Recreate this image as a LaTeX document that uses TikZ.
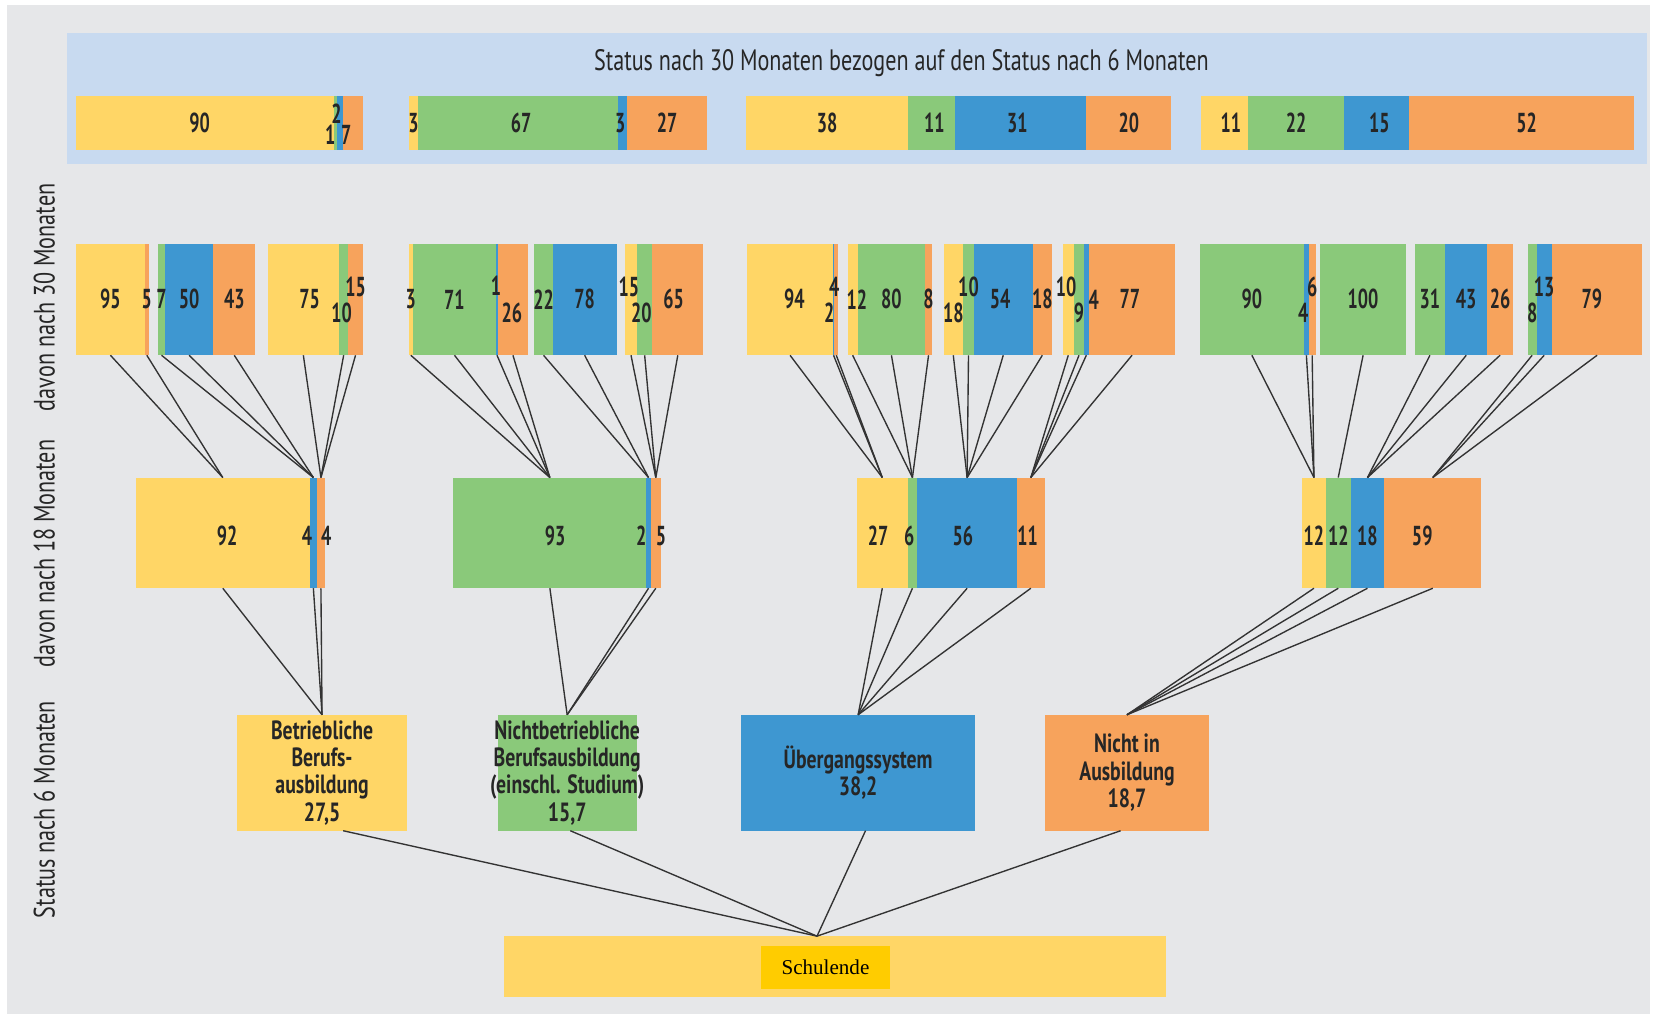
\documentclass[tikz,border=0pt]{standalone}
\usepackage{fontspec}
\newfontfamily\condfont{PT Sans}[FakeStretch=0.75]
\newfontfamily\numfont{PT Sans}[FakeStretch=0.66]
\newfontfamily\schoolfont{Liberation Serif}
\usetikzlibrary{positioning,calc}

\definecolor{ausbY}{HTML}{FFD666}
\definecolor{nichtbG}{HTML}{8AC97A}
\definecolor{uebergB}{HTML}{3E97D1}
\definecolor{nichtO}{HTML}{F7A35C}
\definecolor{headB}{HTML}{C8DAF0}
\definecolor{panelG}{HTML}{E6E7E9}
\definecolor{schulY}{HTML}{FFCC00}

\tikzset{
  seg/.style={rectangle, inner sep=0pt, outer sep=0pt, anchor=north west, draw=none},
  num/.style={inner sep=0pt, font=\numfont\bfseries\fontsize{26}{26}\selectfont, text=black!85},
  link/.style={draw=black!80, line width=1.3pt},
  box6/.style={rectangle, inner sep=0pt, outer sep=0pt, anchor=north west, minimum height=110},
  boxtext/.style={align=center, inner sep=0pt, font=\condfont\bfseries\fontsize{25}{26}\selectfont, text=black!85},
  side/.style={rotate=90, inner sep=0pt, font=\condfont\fontsize{28}{28}\selectfont, text=black!85},
}

% stacked bar: name, left x, top y, width, height, colour/percent/text/dx/dy
\newcommand\statusbar[6]{%
  \node[seg, minimum width=0pt, minimum height=#5] (#1-0) at (#2,#3) {};
  \foreach \c/\p/\t/\dx/\dy [count=\i, evaluate=\i as \j using int(\i-1)] in {#6}
    \node[seg, fill=\c, minimum width=#4/100*\p, minimum height=#5] (#1-\i) at (#1-\j.north east) {};
  \foreach \c/\p/\t/\dx/\dy [count=\i] in {#6}
    \node[num] (#1-\i-t) at ([shift={(\dx,\dy)}]#1-\i.center) {\t};
}

\begin{document}
\begin{tikzpicture}[x=1pt, y=-1pt]
\useasboundingbox (0,0) rectangle (1568,964);
\fill[white] (0,0) rectangle (1568,964);
\fill[panelG] (7,5) rectangle (1565,962);
\fill[headB] (64,31) rectangle (1562,156);
\node[inner sep=0pt, font=\condfont\fontsize{28}{28}\selectfont, text=black!85] (head) at (855,60)
  {Status nach 30 Monaten bezogen auf den Status nach 6 Monaten};

% Status nach 30 Monaten, bezogen auf 6 Monate
\statusbar{h1}{72}{91}{272}{51}{ausbY/90/90/-5/0, nichtbG/1/1/-5/11, uebergB/2/2/-3/-9, nichtO/7/7/-6/11}
\statusbar{h2}{388}{91}{283}{51}{ausbY/3/3/0/0, nichtbG/67/67/3/0, uebergB/3/3/-2/0, nichtO/27/27/0/0}
\statusbar{h3}{708}{91}{403}{51}{ausbY/38/38/0/0, nichtbG/11/11/3/0, uebergB/31/31/-3/0, nichtO/20/20/0/0}
\statusbar{h4}{1139}{91}{411}{51}{ausbY/11/11/6/0, nichtbG/22/22/0/0, uebergB/15/15/3/0, nichtO/52/52/5/0}

% davon nach 30 Monaten
\statusbar{t1a}{72}{231}{69}{106}{ausbY/95/95/0/0, nichtO/5/5/0/0}
\statusbar{t1b}{150}{231}{92}{106}{nichtbG/7/7/0/0, uebergB/50/50/0/0, nichtO/43/43/0/0}
\statusbar{t1c}{254}{231}{90}{106}{ausbY/75/75/6/0, nichtbG/10/10/-2/13, nichtO/15/15/0/-12}
\statusbar{t2a}{388}{231}{112}{106}{ausbY/3/3/0/0, nichtbG/71/71/0/0, uebergB/1/1/-1/-13, nichtO/26/26/-1/13}
\statusbar{t2b}{507}{231}{78}{106}{nichtbG/22/22/0/0, uebergB/78/78/0/0}
\statusbar{t2c}{593}{231}{74}{106}{ausbY/15/15/-2/-12, nichtbG/20/20/-3/13, nichtO/65/65/-4/0}
\statusbar{t3a}{709}{231}{86}{106}{ausbY/94/94/4/0, uebergB/2/2/-4/13, nichtO/4/4/-2/-12}
\statusbar{t3b}{804}{231}{80}{106}{ausbY/12/12/4/0, nichtbG/80/80/0/0, nichtO/8/8/0/0}
\statusbar{t3c}{895}{231}{103}{106}{ausbY/18/18/0/13, nichtbG/10/10/0/-12, uebergB/54/54/-3/0, nichtO/18/18/0/0}
\statusbar{t3d}{1008}{231}{107}{106}{ausbY/10/10/-2/-12, nichtbG/9/9/0/13, uebergB/4/4/7/0, nichtO/77/77/-2/0}
\statusbar{t4a}{1138}{231}{110}{106}{nichtbG/90/90/0/0, uebergB/4/4/-3/13, nichtO/6/6/0/-12}
\statusbar{t4b}{1252}{231}{82}{106}{nichtbG/100/100/0/0}
\statusbar{t4c}{1342}{231}{93}{106}{nichtbG/31/31/0/0, uebergB/43/43/0/0, nichtO/26/26/0/0}
\statusbar{t4d}{1449}{231}{109}{106}{nichtbG/8/8/0/13, uebergB/13/13/0/-12, nichtO/79/79/-5/0}

% davon nach 18 Monaten
\statusbar{m1}{129}{453}{179}{105}{ausbY/92/92/4/3, uebergB/4/4/-6/3, nichtO/4/4/5/3}
\statusbar{m2}{430}{453}{197}{105}{nichtbG/93/93/5/3, uebergB/2/2/-7/3, nichtO/5/5/5/3}
\statusbar{m3}{813}{453}{178}{105}{ausbY/26.9/27/-4/3, nichtbG/5.2/6/-3/3, uebergB/53.1/56/-4/3, nichtO/14.8/11/-3/3}
\statusbar{m4}{1235}{453}{170}{105}{ausbY/13.4/12/0/3, nichtbG/13.7/12/0/3, uebergB/18.9/18/0/3, nichtO/54/59/-10/3}

% Status nach 6 Monaten
\node[box6, fill=ausbY, minimum width=161] (bb) at (225,678) {};
\node[boxtext] (bb-t) at (bb.center) {Betriebliche\\Berufs-\\ausbildung\\27,5};
\node[box6, fill=nichtbG, minimum width=132] (nb) at (472,678) {};
\node[boxtext] (nb-t) at (nb.center) {Nichtbetriebliche\\Berufsausbildung\\(einschl. Studium)\\15,7};
\node[box6, fill=uebergB, minimum width=222] (ue) at (703,678) {};
\node[boxtext] (ue-t) at (ue.center) {Übergangssystem\\38,2};
\node[box6, fill=nichtO, minimum width=156] (ni) at (991,678) {};
\node[boxtext] (ni-t) at (ni.center) {Nicht in\\Ausbildung\\18,7};

% Schulende
\node[seg, fill=ausbY, minimum width=628, minimum height=58] (se) at (478,888) {};
\node[fill=schulY, minimum width=122, minimum height=41, inner sep=0pt,
  font=\schoolfont\fontsize{20}{20}\selectfont] (se-t) at (783,918) {Schulende};
\coordinate (se-in) at ([xshift=-17]se.north);

% 30 -> 18 Monate
\foreach \src/\n/\tgt in {t1a/2/m1-1, t1b/3/m1-2, t1c/3/m1-3, t2a/4/m2-1, t2b/2/m2-2, t2c/3/m2-3,
    t3a/3/m3-1, t3b/3/m3-2, t3c/4/m3-3, t3d/4/m3-4, t4a/3/m4-1, t4b/1/m4-2, t4c/3/m4-3, t4d/3/m4-4}
  \foreach \i in {1,...,\n}
    \draw[link] (\src-\i.south) -- (\tgt.north);

% 18 -> 6 Monate
\foreach \src/\n/\tgt in {m1/3/bb, m2/3/nb, m3/4/ue, m4/4/ni}
  \foreach \i in {1,...,\n}
    \draw[link] (\src-\i.south) -- (\tgt.north);

% 6 Monate -> Schulende
\foreach \src/\dx in {bb/20, nb/3, ue/7, ni/-6}
  \draw[link] ([xshift=\dx]\src.south) -- (se-in);

% Zeilenbeschriftung
\node[side] (lab30) at (42,282) {davon nach 30 Monaten};
\node[side] (lab18) at (42,525) {davon nach 18 Monaten};
\node[side] (lab6) at (42,768) {Status nach 6 Monaten};
\end{tikzpicture}
\end{document}
